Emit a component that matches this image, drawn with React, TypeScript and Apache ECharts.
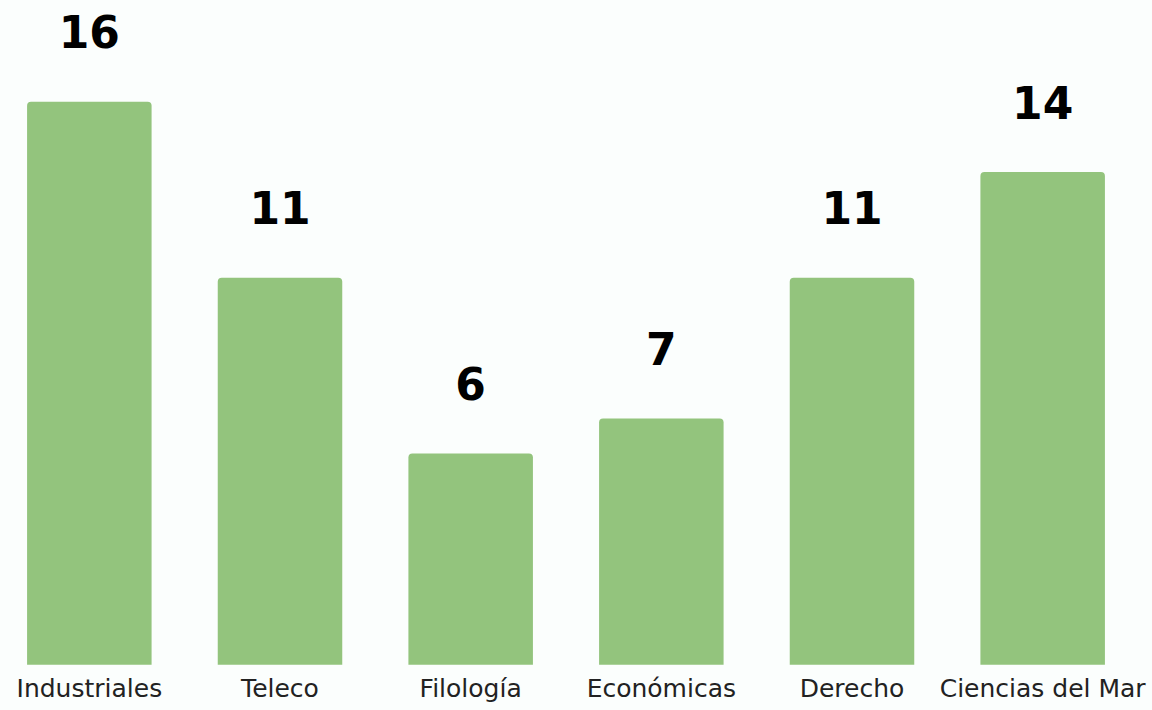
import React, { useEffect, useRef } from "react";
import * as echarts from "echarts";

const categories = ["Industriales", "Teleco", "Filología", "Económicas", "Derecho", "Ciencias del Mar"];
const values = [16, 11, 6, 7, 11, 14];

export default function App() {
  const ref = useRef<HTMLDivElement>(null);
  useEffect(() => {
    if (!ref.current) return;
    const chart = echarts.init(ref.current, null, { renderer: "svg" });
    chart.setOption({
      animation: false,
      backgroundColor: "#fbfefd",
      grid: { left: 0, right: 14, top: 101.7, bottom: 45.3, containLabel: false },
      xAxis: {
        type: "category",
        data: categories,
        axisLine: { show: false },
        axisTick: { show: false },
        axisLabel: {
          color: "#222222",
          fontFamily: "DejaVu Sans",
          fontSize: 25,
          margin: 11,
          interval: 0,
        },
      },
      yAxis: {
        type: "value",
        min: 0,
        max: 16,
        show: false,
        splitLine: { show: false },
      },
      series: [
        {
          type: "bar",
          data: values,
          barCategoryGap: "34.7%",
          itemStyle: { color: "#93c47d", borderRadius: [4, 4, 0, 0] },
          label: {
            show: true,
            position: "top",
            distance: 47,
            color: "#000000",
            fontFamily: "DejaVu Sans",
            fontWeight: "bold",
            fontSize: 44,
          },
        },
      ],
    });
    return () => chart.dispose();
  }, []);
  return (
    <div
      ref={ref}
      style={{ position: "absolute", left: -6, top: 0, width: 1158, height: 710 }}
    />
  );
}
